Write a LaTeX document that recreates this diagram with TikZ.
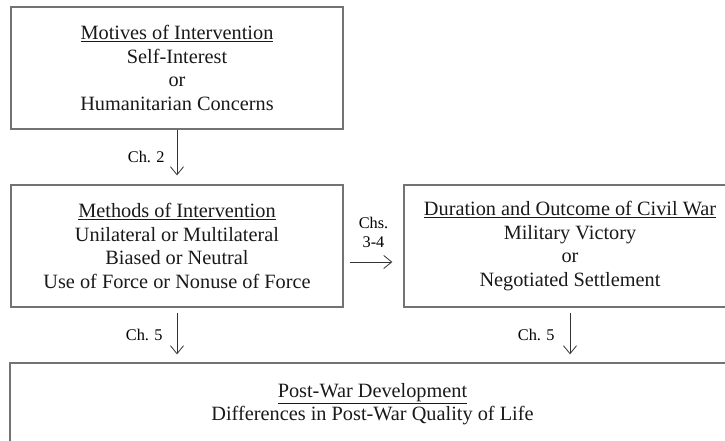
\documentclass[tikz,border=0pt]{standalone}
\usepackage{fontspec}
\setmainfont{Liberation Serif}
\usetikzlibrary{arrows.meta,positioning}

\begin{document}
\begin{tikzpicture}[x=1pt,y=-1pt]

					\tikzstyle{box} = [
						draw=black!55,
						line width=1.3pt,
						minimum width=332pt,
						minimum height=122pt,
						align=center,
						text=black!90,
						font=\fontsize{20.3}{23.6}\selectfont
					]
					\tikzstyle{tag} = [
						align=center,
						inner sep=1pt,
						font=\fontsize{16.3}{19}\selectfont
					]
					\tikzstyle{link} = [
						draw=black!80,
						line width=0.8pt,
						-{Straight Barb[length=8pt,width=13pt]}
					]

					\useasboundingbox (0,0) rectangle (725,441);
					\clip (0,0) rectangle (725,441);

					\node (motives) [style=box] at (177,68) {\underline{Motives of Intervention}\\Self-Interest\\or\\Humanitarian Concerns};
					\node (methods) [style=box] at (177,246) {\underline{Methods of Intervention}\\Unilateral or Multilateral\\Biased or Neutral\\Use of Force or Nonuse of Force};
					\node (outcome) [style=box] at (570,246) {\underline{Duration and Outcome of Civil War}\\Military Victory\\or\\Negotiated Settlement};
					\node (postwar) [style=box, minimum width=725pt, minimum height=82pt] at (372.5,404) {\underline{Post-War Development}\\Differences in Post-War Quality of Life};

					\draw [link, shorten >=9pt] (motives) -- (methods) node [midway, left=11pt, style=tag] {Ch. 2};
					\draw [link, shorten <=6pt, shorten >=11pt] ([yshift=-16pt]methods.east) -- ([yshift=-16pt]outcome.west) node [midway, above=13pt, style=tag] {Chs.\\3-4};
					\draw [link, shorten <=5pt, shorten >=8pt] (methods.south) -- (methods.south |- postwar.north) node [midway, left=13pt, style=tag] {Ch. 5};
					\draw [link, shorten <=5pt, shorten >=8pt] (outcome.south) -- (outcome.south |- postwar.north) node [midway, left=14pt, style=tag] {Ch. 5};

				\end{tikzpicture}
\end{document}
